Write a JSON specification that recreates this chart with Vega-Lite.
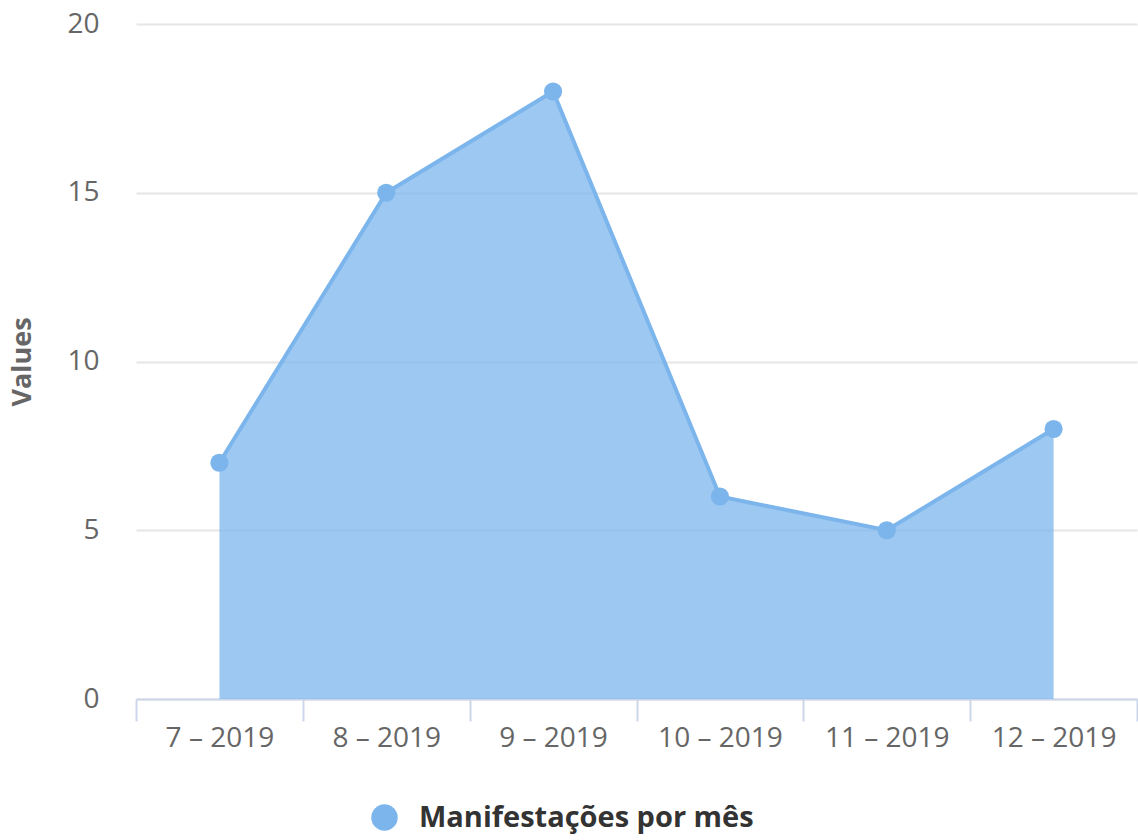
{
  "$schema": "https://vega.github.io/schema/vega-lite/v6.json",
  "autosize": {"type": "none"},
  "width": 1001,
  "height": 675,
  "padding": {"left": 136, "top": 24, "right": 1, "bottom": 141},
  "background": "white",
  "config": {"view": {"stroke": null}, "font": "Open Sans"},
  "data": {
    "values": [
      {"month": "7 – 2019", "value": 7, "series": "Manifestações por mês"},
      {"month": "8 – 2019", "value": 15, "series": "Manifestações por mês"},
      {"month": "9 – 2019", "value": 18, "series": "Manifestações por mês"},
      {"month": "10 – 2019", "value": 6, "series": "Manifestações por mês"},
      {"month": "11 – 2019", "value": 5, "series": "Manifestações por mês"},
      {"month": "12 – 2019", "value": 8, "series": "Manifestações por mês"}
    ]
  },
  "mark": {
    "type": "area",
    "fillOpacity": 0.75,
    "line": {"strokeWidth": 4},
    "point": {"size": 330, "filled": true, "opacity": 1}
  },
  "encoding": {
    "x": {
      "field": "month",
      "type": "nominal",
      "sort": null,
      "bandPosition": 0.5,
      "scale": {"type": "band", "paddingInner": 0, "paddingOuter": 0},
      "axis": {
        "title": null,
        "labelAngle": 0,
        "labelFontSize": 28,
        "labelColor": "#666666",
        "labelFont": "Open Sans",
        "labelPadding": 3,
        "domainColor": "#ccd6eb",
        "domainWidth": 2,
        "tickColor": "#ccd6eb",
        "tickWidth": 2,
        "tickSize": 22,
        "tickBand": "extent",
        "grid": false
      }
    },
    "y": {
      "field": "value",
      "type": "quantitative",
      "scale": {"domain": [0, 20]},
      "axis": {
        "values": [0, 5, 10, 15, 20],
        "grid": true,
        "gridColor": "#e6e6e6",
        "gridWidth": 2,
        "domain": false,
        "ticks": false,
        "labelPadding": 37,
        "labelFontSize": 28,
        "labelColor": "#666666",
        "labelFont": "Open Sans",
        "title": "Values",
        "titleFont": "Open Sans",
        "titleFontSize": 27,
        "titleFontWeight": "bold",
        "titleColor": "#666666",
        "titlePadding": 30
      }
    },
    "color": {
      "field": "series",
      "type": "nominal",
      "scale": {"range": ["#7cb5ec"]},
      "legend": {
        "orient": "none",
        "legendX": 234,
        "legendY": 779,
        "title": null,
        "padding": 0,
        "symbolType": "circle",
        "symbolSize": 700,
        "symbolOpacity": 1,
        "symbolStrokeWidth": 0,
        "symbolOffset": 0,
        "labelFont": "Open Sans",
        "labelFontSize": 29,
        "labelFontWeight": "bold",
        "labelColor": "#333333",
        "labelOffset": 20,
        "labelLimit": 0
      }
    }
  }
}
